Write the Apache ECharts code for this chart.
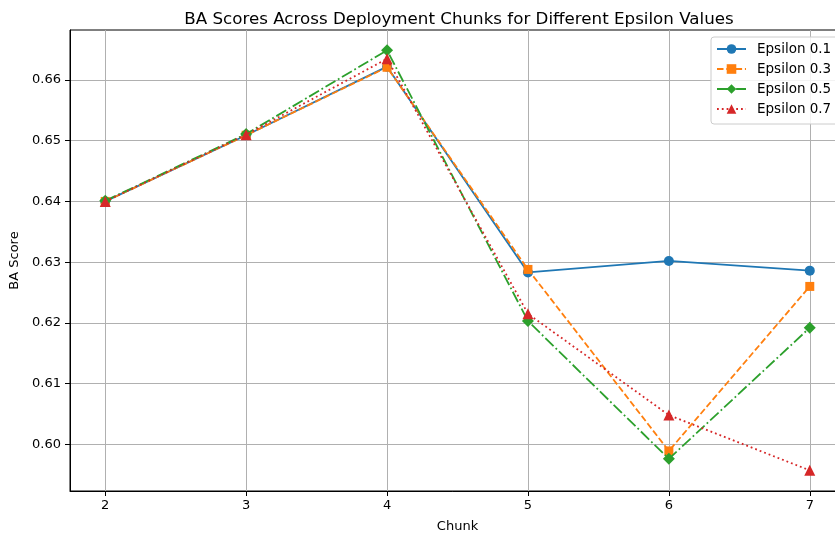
<!DOCTYPE html>
<html>
<head>
<meta charset="utf-8">
<script src="https://cdn.jsdelivr.net/npm/echarts@6/dist/echarts.min.js"></script>
<style>html,body{margin:0;padding:0;background:#fff}#c{width:835px;height:533px}</style>
</head>
<body>
<div id="c"></div>
<script>
const chunks = [2, 3, 4, 5, 6, 7];
const eps01 = [0.6400, 0.6509, 0.6622, 0.6283, 0.6302, 0.6286];
const eps03 = [0.6400, 0.6509, 0.6621, 0.6288, 0.5989, 0.6260];
const eps05 = [0.6401, 0.6511, 0.6649, 0.6203, 0.5976, 0.6192];
const eps07 = [0.6400, 0.6510, 0.6635, 0.6215, 0.6048, 0.5957];
const xTicks = [2, 3, 4, 5, 6, 7];
const yTicks = [0.60, 0.61, 0.62, 0.63, 0.64, 0.65, 0.66];
const seriesNames = ['Epsilon 0.1', 'Epsilon 0.3', 'Epsilon 0.5', 'Epsilon 0.7'];

const font = 'DejaVu Sans';
const colors = ['#1f77b4', '#ff7f0e', '#2ca02c', '#d62728'];
const symbols = ['circle', 'rect', 'diamond', 'triangle'];
const symbolSizes = [10, 9, 12, 11];
const dashes = ['solid', [6.5, 2.8], [11.5, 2.9, 1.8, 2.9], [1.8, 3]];
const allData = [eps01, eps03, eps05, eps07];

const chart = echarts.init(document.getElementById('c'), null, {renderer: 'canvas'});
const series = allData.map((vals, i) => ({
  name: seriesNames[i],
  type: 'line',
  data: chunks.map((c, j) => [c, vals[j]]),
  symbol: symbols[i],
  symbolSize: symbolSizes[i],
  showAllSymbol: true,
  color: colors[i],
  itemStyle: {color: colors[i]},
  lineStyle: {color: colors[i], width: 1.8, type: dashes[i]},
  animation: false,
  z: 3 + i
}));

chart.setOption({
  animation: false,
  title: {
    text: 'BA Scores Across Deployment Chunks for Different Epsilon Values',
    left: 454, top: 6, textAlign: 'center',
    textStyle: {fontFamily: font, fontSize: 16.7, fontWeight: 'normal', color: '#000'}
  },
  legend: {
    data: seriesNames,
    orient: 'vertical',
    left: 711, top: 37,
    itemWidth: 29, itemHeight: 12, itemGap: 6,
    padding: [5, 8, 8, 5],
    borderColor: '#cccccc', borderWidth: 1, borderRadius: 3,
    backgroundColor: 'rgba(255,255,255,0.85)',
    textStyle: {fontFamily: font, fontSize: 13.5, color: '#000', padding: [0, 0, 0, 6]}
  },
  grid: {
    left: 70, top: 30, right: -10, bottom: 42,
    containLabel: false, outerBoundsMode: 'none',
    show: true, borderColor: '#000', borderWidth: 1, backgroundColor: 'transparent'
  },
  xAxis: {
    type: 'value', min: 1.75, max: 7.25,
    name: 'Chunk', nameLocation: 'middle', nameGap: 29,
    nameTextStyle: {fontFamily: font, fontSize: 13, color: '#000'},
    axisLine: {show: true, lineStyle: {color: '#000', width: 1}},
    axisTick: {show: true, length: 5, lineStyle: {color: '#000'}, customValues: xTicks},
    axisLabel: {fontFamily: font, fontSize: 13, color: '#000', margin: 8, customValues: xTicks,
      formatter: v => String(v)},
    splitLine: {show: true, lineStyle: {color: '#b0b0b0', width: 1}}
  },
  yAxis: {
    type: 'value', min: 0.5923, max: 0.66824,
    name: 'BA Score', nameLocation: 'middle', nameGap: 41, nameRotate: 90,
    nameTextStyle: {fontFamily: font, fontSize: 13, color: '#000'},
    axisLine: {show: true, lineStyle: {color: '#000', width: 1}},
    axisTick: {show: true, length: 5, lineStyle: {color: '#000'}, customValues: yTicks},
    axisLabel: {fontFamily: font, fontSize: 13, color: '#000', margin: 9, customValues: yTicks,
      formatter: v => v.toFixed(2)},
    splitLine: {show: true, lineStyle: {color: '#b0b0b0', width: 1}}
  },
  series: series
});
</script>
</body>
</html>
